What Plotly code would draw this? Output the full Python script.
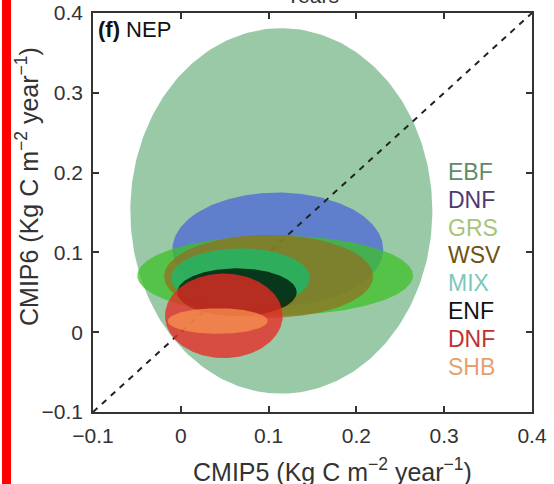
import numpy as np
import plotly.graph_objects as go

# Ellipse summaries per biome: centre (CMIP5, CMIP6) and spread in each direction
biomes = ["EBF", "DNF", "GRS", "WSV", "MIX", "ENF", "DNF", "SHB"]
center_x = [0.1145, 0.1105, 0.1075, 0.100, 0.068, 0.064, 0.049, 0.042]
center_y = [0.152, 0.104, 0.071, 0.070, 0.068, 0.050, 0.0205, 0.014]
spread_x = [0.172, 0.120, 0.157, 0.119, 0.079, 0.068, 0.067, 0.057]
spread_y = [0.229, 0.071, 0.050, 0.052, 0.037, 0.030, 0.053, 0.016]

fill_colors = [
    "rgba(100,172,122,0.65)",
    "rgba(80,108,212,0.80)",
    "rgba(60,192,40,0.75)",
    "rgba(150,108,30,0.70)",
    "rgba(20,190,110,0.75)",
    "rgba(0,30,12,0.82)",
    "rgba(232,42,36,0.78)",
    "rgba(248,150,80,0.72)",
]
label_colors = ["#5e8c66", "#4e3a6e", "#a6c47a", "#6e5214", "#7cc8be",
                "#111111", "#c03232", "#e6a070"]

axis_range = [-0.1, 0.4]
tick_vals = [-0.1, 0, 0.1, 0.2, 0.3, 0.4]
tick_text = ["\u22120.1", "0", "0.1", "0.2", "0.3", "0.4"]

x_title = "CMIP5 (Kg C m<sup>\u22122</sup> year<sup>\u22121</sup>)"
y_title = "CMIP6 (Kg C m<sup>\u22122</sup> year<sup>\u22121</sup>)"

t = np.linspace(0, 2 * np.pi, 240)


def ellipse_trace(i):
    return go.Scatter(
        x=center_x[i] + spread_x[i] * np.cos(t),
        y=center_y[i] + spread_y[i] * np.sin(t),
        mode="lines", fill="toself", fillcolor=fill_colors[i],
        line=dict(width=0), hoverinfo="skip", showlegend=False,
    )


fig = go.Figure()
# broad-leaf and needle-leaf envelopes sit underneath the 1:1 line
fig.add_trace(ellipse_trace(0))
fig.add_trace(ellipse_trace(1))
fig.add_trace(go.Scatter(
    x=axis_range, y=axis_range, mode="lines",
    line=dict(color="#222222", width=2, dash="6px,6px"),
    hoverinfo="skip", showlegend=False,
))
for i in range(2, len(biomes)):
    fig.add_trace(ellipse_trace(i))

font_family = "Liberation Sans, Arial, sans-serif"
axis_common = dict(
    range=axis_range, tickvals=tick_vals, ticktext=tick_text,
    showgrid=False, zeroline=False, showline=True, mirror="ticks",
    linecolor="#333333", linewidth=1.5, ticks="inside", ticklen=6,
    tickcolor="#333333", tickwidth=1.5, automargin=False,
    ticklabelstandoff=4,
    tickfont=dict(family=font_family, size=21, color="#333333"),
)

fig.update_layout(
    width=554, height=484,
    margin=dict(l=93, r=22, t=13, b=72),
    plot_bgcolor="white", paper_bgcolor="white",
    xaxis=dict(**axis_common),
    yaxis=dict(**axis_common),
)

title_font = dict(family=font_family, size=25, color="#333333")
# axis titles
fig.add_annotation(
    xref="paper", yref="paper", x=(332 - 93) / 439, y=(412 - 470) / 399,
    xanchor="center", yanchor="middle", text=x_title, showarrow=False,
    font=title_font,
)
fig.add_annotation(
    xref="paper", yref="paper", x=(27 - 93) / 439, y=(412 - 187) / 399,
    xanchor="center", yanchor="middle", text=y_title, showarrow=False,
    textangle=-90, font=title_font,
)

# panel label
fig.add_annotation(
    xref="paper", yref="paper", x=0.006, y=0.995, xanchor="left", yanchor="top",
    text="<b>(f)</b> NEP", showarrow=False,
    font=dict(family=font_family, size=22, color="#111111"),
)

# heading above the panel
fig.add_annotation(
    xref="paper", yref="paper", x=0.5, y=1.009, xanchor="center", yanchor="bottom",
    text="Years", showarrow=False,
    font=dict(family=font_family, size=21, color="#333333"),
)

# biome key
for k, (name, col) in enumerate(zip(biomes, label_colors)):
    fig.add_annotation(
        xref="paper", yref="paper", x=0.805, y=0.6015 - k * 0.0697,
        xanchor="left", yanchor="middle", text=name, showarrow=False,
        font=dict(family=font_family, size=23, color=col),
    )

# red margin bar on the left edge of the page
fig.add_shape(type="rect", xref="paper", yref="paper",
              x0=-91 / 439, x1=-82 / 439, y0=-0.2, y1=1.05,
              fillcolor="#ff0000", line=dict(width=0), layer="above")

fig.write_html("out.html")
